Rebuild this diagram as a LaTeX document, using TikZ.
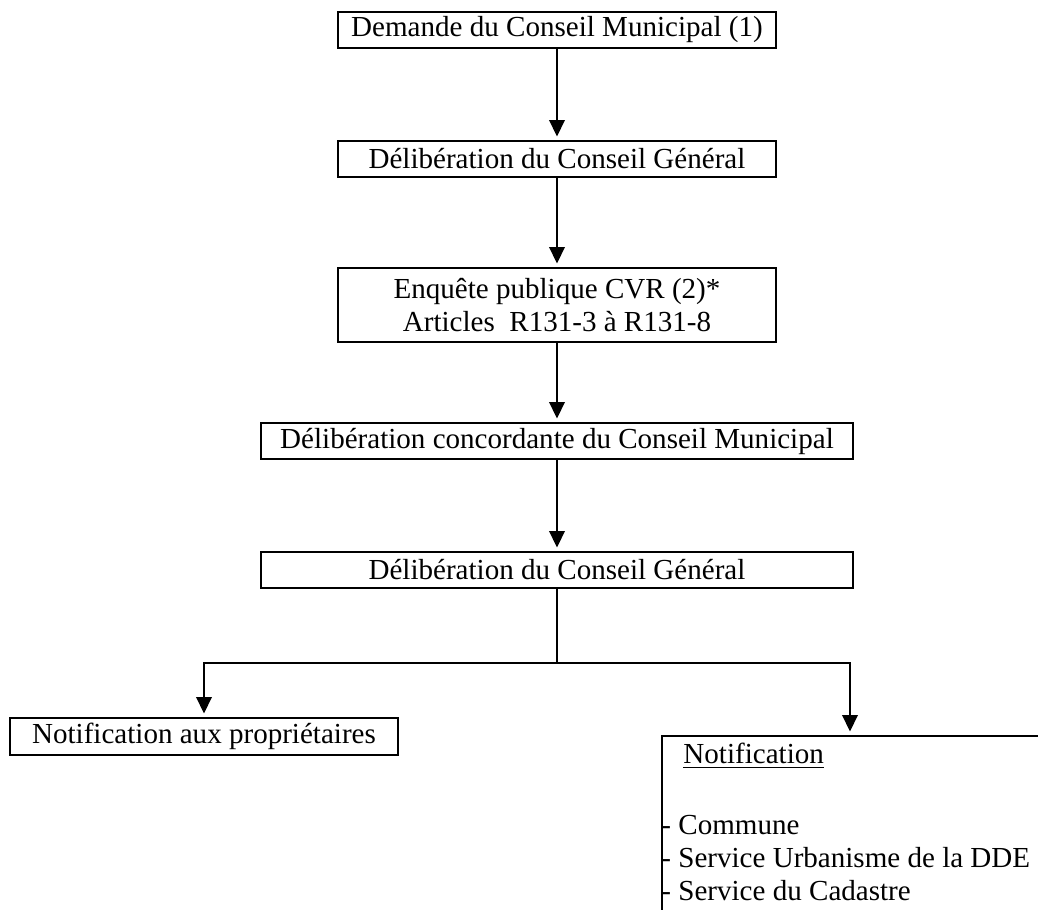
\documentclass[tikz,border=0pt]{standalone}
\usepackage{fontspec}
\setmainfont{Liberation Serif}
\usetikzlibrary{positioning, arrows.meta, calc}

\tikzset{
	bloc/.style={draw, line width=0.85pt, minimum height=0.54cm, inner sep=0pt, align=center},
	fleche/.style={line width=0.85pt, -{Triangle[width=6.6pt, length=7pt]}, shorten >=1.5pt},
}

\begin{document}
\begin{tikzpicture}[x=0.015cm, y=-0.015cm, node distance=1.935cm, font=\fontsize{12.4}{14.1}\selectfont]
	\clip (0,0) rectangle (1038,910);
	\node (demande) [bloc, minimum width=6.57cm] at (557,30) {Demande du Conseil Municipal (1)};
	\node (delib1) [bloc, minimum width=6.57cm, below of=demande] {Délibération du Conseil Général};
	\node (enquete) [bloc, minimum width=6.57cm, minimum height=1.11cm, below of=delib1, node distance=2.19cm] {Enquête publique CVR (2)*\\Articles~ R131-3 à R131-8};
	\node (concord) [bloc, minimum width=8.865cm, below of=enquete, node distance=2.04cm] {Délibération concordante du Conseil Municipal};
	\node (delib2) [bloc, minimum width=8.865cm, below of=concord] {Délibération du Conseil Général};
	\node (proprio) [bloc, minimum width=5.82cm, minimum height=0.555cm] at (204,736.5) {Notification aux propriétaires};
	\node (notif) [bloc, minimum width=7cm, minimum height=3.5cm, anchor=north west] at (661,735) {};
	\node (liste) [anchor=north west, inner sep=0pt, align=left] at ($(notif.north west)+(0,8)$)
		{\hspace*{0.33cm}\underline{Notification}\\[2pt]~\\- Commune\\- Service Urbanisme de la DDE\\- Service du Cadastre};
	\coordinate (fourche) at ($(delib2.south)+(0,74)$);
	\draw[fleche] (demande) -- (delib1);
	\draw[fleche] (delib1) -- (enquete);
	\draw[fleche] (enquete) -- (concord);
	\draw[fleche] (concord) -- (delib2);
	\draw[line width=0.85pt] (delib2) -- (fourche);
	\draw[fleche] (fourche) -| (proprio);
	\draw[fleche] (fourche) -| ($(notif.north west)+(189,0)$);
\end{tikzpicture}
\end{document}
